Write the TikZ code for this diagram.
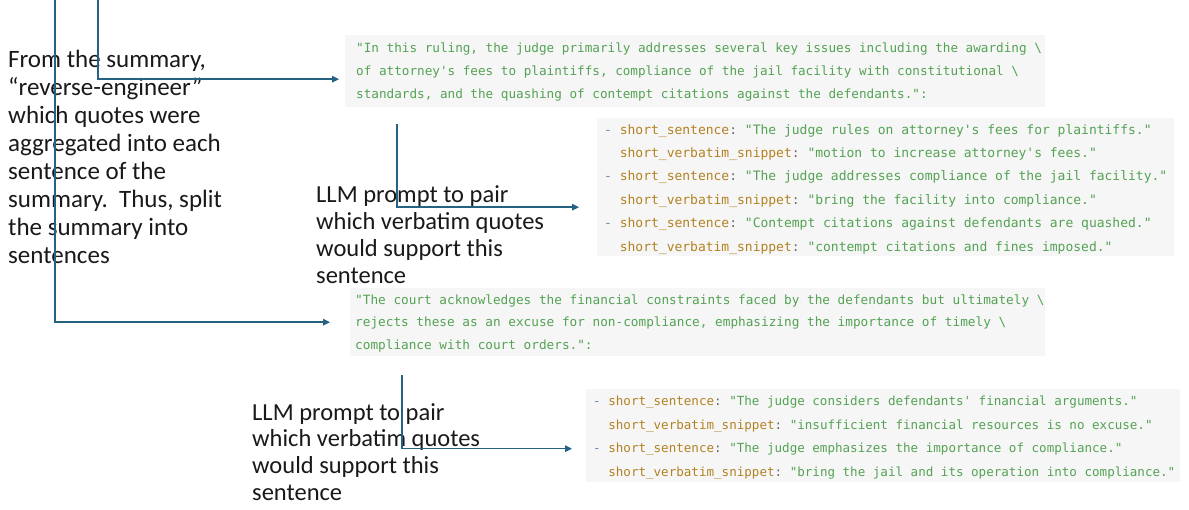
\documentclass[tikz,border=0pt]{standalone}
\usepackage{fontspec}
\setmainfont{Carlito}
\newfontfamily\codefont{DejaVu Sans Mono}
\usetikzlibrary{arrows.meta,calc}
\definecolor{flowblue}{RGB}{38,98,130}
\definecolor{codegreen}{RGB}{84,162,84}
\definecolor{codekey}{RGB}{178,130,34}
\definecolor{codedash}{RGB}{96,140,180}
\definecolor{codecolon}{RGB}{105,105,105}
\definecolor{boxgray}{RGB}{246,246,246}
\definecolor{textblack}{RGB}{25,25,25}
\newlength\mycodecw
% #1 = wanted width of one character cell (pt), #2 = baselineskip
\newcommand\codeat[2]{\codefont\fontsize{10}{10}\selectfont
  \setlength\mycodecw{\fontcharwd\font`\M}%
  \pgfmathsetmacro\mycodefs{10*#1/\mycodecw}%
  \fontsize{\mycodefs}{#2}\selectfont\frenchspacing}
\newcommand\qs{\char39\relax}
\newcommand\keyS{\textcolor{codekey}{short\_sentence}\textcolor{codecolon}{:}}
\newcommand\keyV{\textcolor{codekey}{short\_verbatim\_snippet}\textcolor{codecolon}{:}}
\newcommand\dashmark{\textcolor{codedash}{-}}
\newcommand\indentmark{\phantom{-}}
\begin{document}
\begin{tikzpicture}[x=1pt,y=-1pt,
  flow/.style={draw=flowblue, line width=1.5pt, -{Triangle[length=7pt,width=6.5pt]}},
  boxbg/.style={fill=boxgray, draw=none, anchor=north west, inner sep=0pt},
  codetext/.style={anchor=west, align=left, inner sep=0pt, text=codegreen},
  note/.style={anchor=north west, align=left, text=textblack, inner sep=0pt}]
\useasboundingbox (0,0) rectangle (1189,510);

% code boxes (background)
\node[boxbg, minimum width=700, minimum height=72] (q1) at (345,35) {};
\node[boxbg, minimum width=577, minimum height=138] (q2) at (597,118) {};
\node[boxbg, minimum width=695, minimum height=68] (q3) at (350,288) {};
\node[boxbg, minimum width=594, minimum height=93] (q4) at (586,389) {};

% code text
\node[codetext, font=\codeat{7.62}{23.3}] (t1) at ($(q1.west)+(11,1)$)
 {"In this ruling, the judge primarily addresses several key issues including the awarding \textbackslash\\
  of attorney\qs s fees to plaintiffs, compliance of the jail facility with constitutional \textbackslash\\
  standards, and the quashing of contempt citations against the defendants.":};

\node[codetext, font=\codeat{7.82}{23.4}] (t2) at ($(q2.west)+(7,2)$)
 {\dashmark\ \keyS\ "The judge rules on attorney\qs s fees for plaintiffs."\\
  \indentmark\ \keyV\ "motion to increase attorney\qs s fees."\\
  \dashmark\ \keyS\ "The judge addresses compliance of the jail facility."\\
  \indentmark\ \keyV\ "bring the facility into compliance."\\
  \dashmark\ \keyS\ "Contempt citations against defendants are quashed."\\
  \indentmark\ \keyV\ "contempt citations and fines imposed."};

\node[codetext, font=\codeat{7.66}{22.6}] (t3) at ($(q3.west)+(5,1)$)
 {"The court acknowledges the financial constraints faced by the defendants but ultimately \textbackslash\\
  rejects these as an excuse for non-compliance, emphasizing the importance of timely \textbackslash\\
  compliance with court orders.":};

\node[codetext, font=\codeat{7.56}{23.6}] (t4) at ($(q4.west)+(7,2)$)
 {\dashmark\ \keyS\ "The judge considers defendants\qs\ financial arguments."\\
  \indentmark\ \keyV\ "insufficient financial resources is no excuse."\\
  \dashmark\ \keyS\ "The judge emphasizes the importance of compliance."\\
  \indentmark\ \keyV\ "bring the jail and its operation into compliance."};

% explanatory texts
\node[note, font=\fontsize{25}{28}\selectfont] (n1) at (8,49.5)
 {From the summary,\\
  “reverse-engineer”\\
  which quotes were\\
  aggregated into each\\
  sentence of the\\
  summary.\ \ Thus, split\\
  the summary into\\
  sentences};

\node[note, font=\fontsize{24.5}{27}\selectfont] (n2) at (316,185)
 {LLM prompt to pair\\
  which verbatim quotes\\
  would support this\\
  sentence};

\node[note, font=\fontsize{24.5}{26.7}\selectfont] (n3) at (252,403)
 {LLM prompt to pair\\
  which verbatim quotes\\
  would support this\\
  sentence};

% connector end points
\coordinate (top1) at (55,0);
\coordinate (top2) at (98,0);
\coordinate (in3) at ($(q3.west)+(-20,0)$);
\coordinate (in1) at ($(q1.west)+(-6,8)$);
\coordinate (out1) at ($(q1.south west)+(52,17)$);
\coordinate (in2) at ($(q2.west)+(-18,20)$);
\coordinate (out3) at ($(q3.south west)+(52,19)$);
\coordinate (in4) at ($(q4.west)+(-14,13)$);

\draw[flow] (top1) |- (in3);
\draw[flow] (top2) |- (in1);
\draw[flow] (out1) |- (in2);
\draw[flow] (out3) |- (in4);
\end{tikzpicture}
\end{document}
